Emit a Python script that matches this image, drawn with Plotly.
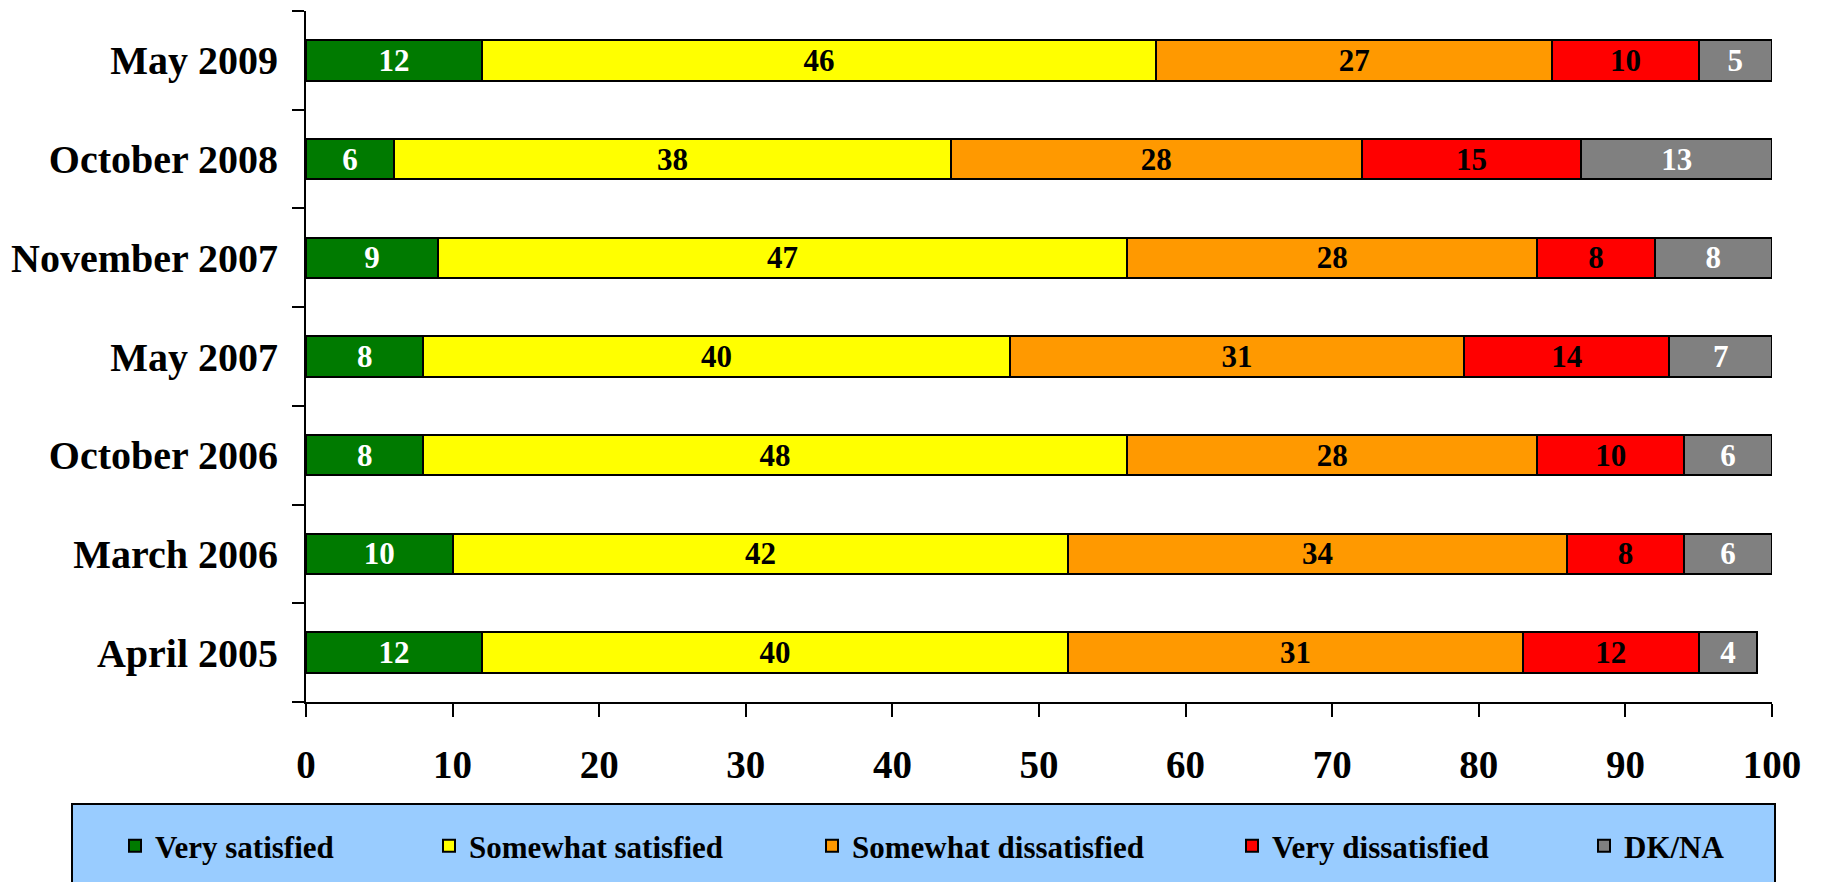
import plotly.graph_objects as go

categories = ["April 2005", "March 2006", "October 2006", "May 2007",
              "November 2007", "October 2008", "May 2009"]
series_names = ["Very satisfied", "Somewhat satisfied", "Somewhat dissatisfied",
                "Very dissatisfied", "DK/NA"]
very_satisfied = [12, 10, 8, 8, 9, 6, 12]
somewhat_satisfied = [40, 42, 48, 40, 47, 38, 46]
somewhat_dissatisfied = [31, 34, 28, 31, 28, 28, 27]
very_dissatisfied = [12, 8, 10, 14, 8, 15, 10]
dk_na = [4, 6, 6, 7, 8, 13, 5]
x_ticks = [0, 10, 20, 30, 40, 50, 60, 70, 80, 90, 100]

series_values = [very_satisfied, somewhat_satisfied, somewhat_dissatisfied,
                 very_dissatisfied, dk_na]
colors = ["#007A00", "#FFFF00", "#FF9900", "#FF0000", "#808080"]
text_colors = ["white", "black", "black", "black", "white"]

FONT = "Liberation Serif, Times New Roman, serif"

W, H = 1822, 882
OFF = 8  # page body margin
# plot area in figure pixels
PX0, PX1, PY0, PY1 = 306 - OFF, 1772 - OFF, 11 - OFF, 702 - OFF
L, R, T, B = PX0, W - PX1, PY0, H - PY1
PW, PH = PX1 - PX0, PY1 - PY0

def px_x(p):
    return (p - OFF - PX0) / PW

def px_y(p):
    return (PY1 - (p - OFF)) / PH

# legend text starts (page pixels) in reference
legend_text_x = [155, 469, 852, 1272, 1624]

fig = go.Figure()
for i, (name, vals) in enumerate(zip(series_names, series_values)):
    lg = "legend" if i == 0 else f"legend{i+1}"
    fig.add_trace(go.Bar(
        y=categories, x=vals, name=name, orientation="h",
        marker=dict(color=colors[i], line=dict(color="black", width=2)),
        text=vals, texttemplate="%{x}", textposition="inside",
        insidetextanchor="middle", textangle=0,
        textfont=dict(family=FONT, size=31, color=text_colors[i], weight="bold"),
        legend=lg, hoverinfo="skip",
    ))

layout_legends = {}
for i in range(5):
    key = "legend" if i == 0 else f"legend{i+1}"
    layout_legends[key] = dict(
        xref="container", yref="container",
        x=(legend_text_x[i] - OFF - 40) / W, xanchor="left",
        y=1 - (848 - OFF - 2) / H, yanchor="middle",
        bgcolor="rgba(0,0,0,0)", borderwidth=0,
        font=dict(family=FONT, size=31, color="black", weight="bold"),
        orientation="h", itemclick=False, itemdoubleclick=False,
    )

fig.update_layout(
    width=W, height=H,
    barmode="stack", bargap=0.59,
    margin=dict(l=L, r=R, t=T, b=B, autoexpand=False),
    paper_bgcolor="white", plot_bgcolor="white",
    font=dict(family=FONT, color="black"),
    showlegend=True,
    uniformtext=dict(minsize=31, mode="show"),
    xaxis=dict(
        range=[0, 100], tickvals=x_ticks, ticktext=[str(v) for v in x_ticks],
        showgrid=False, zeroline=False, showline=True, linecolor="black", linewidth=2,
        ticks="outside", ticklen=13, tickwidth=2, tickcolor="black",
        tickfont=dict(family=FONT, size=39, color="black", weight="bold"),
        ticklabelstandoff=14, fixedrange=True,
    ),
    yaxis=dict(
        categoryorder="array", categoryarray=categories,
        showgrid=False, zeroline=False, showline=True, linecolor="black", linewidth=2,
        ticks="outside", ticklen=12, tickwidth=2, tickcolor="black",
        tickson="boundaries",
        tickfont=dict(family=FONT, size=40, color="black", weight="bold"),
        ticklabelstandoff=18, fixedrange=True,
    ),
    shapes=[dict(
        type="rect", xref="paper", yref="paper",
        x0=px_x(72), x1=px_x(1775), y0=px_y(804), y1=px_y(900),
        fillcolor="#99CCFF", line=dict(color="black", width=2), layer="below",
    )],
    **layout_legends,
)

fig.write_html("out.html")
